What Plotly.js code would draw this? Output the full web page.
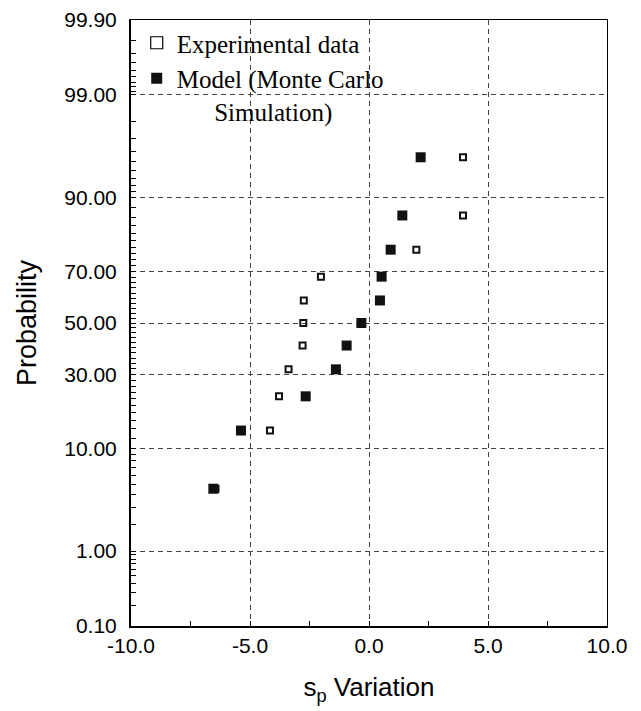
<!DOCTYPE html>
<html>
<head>
<meta charset="utf-8">
<script src="https://cdn.plot.ly/plotly-3.0.1.min.js"></script>
<style>
html,body{margin:0;padding:0;background:#fff;}
#chart{width:641px;height:711px;}
</style>
</head>
<body>
<div id="chart"></div>
<script>
// Data (probability in percent)
var probability = [4.55, 13.64, 22.73, 31.82, 40.91, 50.00, 59.09, 68.18, 77.27, 86.36, 95.45];
var experimentalX = [-6.45, -4.16, -3.78, -3.38, -2.79, -2.76, -2.74, -2.02, 1.99, 3.95, 3.95];
var modelX = [-6.54, -5.38, -2.66, -1.39, -0.94, -0.32, 0.46, 0.53, 0.91, 1.40, 2.17];

var xTickVals = [-10, -5, 0, 5, 10];
var xTickText = ['-10.0', '-5.0', '0.0', '5.0', '10.0'];
var xMinorVals = [-7.5, -2.5, 2.5, 7.5];

var yTickProbs = [0.1, 1, 10, 30, 50, 70, 90, 99, 99.9];
var yTickText = ["0.10", "1.00", "10.00", "30.00", "50.00", "70.00", "90.00", "99.00", "99.90"];
var yMinorProbs = [0.2,0.3,0.4,0.5,0.6,0.7,0.8,0.9, 2,3,4,5,6,7,8,9,
  12,14,16,18,20,22,24,26,28, 32,34,36,38,40,42,44,46,48,
  52,54,56,58,60,62,64,66,68, 72,74,76,78,80,82,84,86,88,
  91,92,93,94,95,96,97,98, 99.1,99.2,99.3,99.4,99.5,99.6,99.7,99.8];

// inverse standard normal CDF (Acklam) -> normal probability scale
function normInv(p){
  var a=[-3.969683028665376e+01,2.209460984245205e+02,-2.759285104469687e+02,1.383577518672690e+02,-3.066479806614716e+01,2.506628277459239e+00];
  var b=[-5.447609879822406e+01,1.615858368580409e+02,-1.556989798598866e+02,6.680131188771972e+01,-1.328068155288572e+01];
  var c=[-7.784894002430293e-03,-3.223964580411365e-01,-2.400758277161838e+00,-2.549732539343734e+00,4.374664141464968e+00,2.938163982698783e+00];
  var d=[7.784695709041462e-03,3.224671290700398e-01,2.445134137142996e+00,3.754408661907416e+00];
  var pl=0.02425, q, r;
  if(p<pl){q=Math.sqrt(-2*Math.log(p));return (((((c[0]*q+c[1])*q+c[2])*q+c[3])*q+c[4])*q+c[5])/((((d[0]*q+d[1])*q+d[2])*q+d[3])*q+1);}
  if(p<=1-pl){q=p-0.5;r=q*q;return (((((a[0]*r+a[1])*r+a[2])*r+a[3])*r+a[4])*r+a[5])*q/(((((b[0]*r+b[1])*r+b[2])*r+b[3])*r+b[4])*r+1);}
  q=Math.sqrt(-2*Math.log(1-p));return -(((((c[0]*q+c[1])*q+c[2])*q+c[3])*q+c[4])*q+c[5])/((((d[0]*q+d[1])*q+d[2])*q+d[3])*q+1);
}
function z(pct){return normInv(pct/100);}

var yz = probability.map(z);
var yRange = [z(0.1), z(99.9)];

var expName = 'Experimental data';
var modelName = 'Model (Monte Carlo<br>\u00a0\u00a0\u00a0\u00a0\u00a0\u00a0Simulation)';

var traces = [
  {x: experimentalX, y: yz, type:'scatter', mode:'markers', name:expName, showlegend:false,
   marker:{symbol:'square-open', size:6, color:'#111', line:{width:2, color:'#111'}}},
  {x: modelX, y: yz, type:'scatter', mode:'markers', name:modelName, showlegend:false,
   marker:{symbol:'square', size:10, color:'#111', line:{width:0}}},
  // legend entries (no data drawn)
  {x:[null], y:[null], type:'scatter', mode:'markers', name:expName, showlegend:true,
   marker:{symbol:'square-open', size:12, color:'#000', line:{width:1.2, color:'#000'}}},
  {x:[null], y:[null], type:'scatter', mode:'markers', name:modelName, showlegend:true,
   marker:{symbol:'square', size:11, color:'#111', line:{width:0}}},
  // empty traces that attach the frame and minor-tick axes
  {x:[null], y:[null], xaxis:'x2', yaxis:'y2', type:'scatter', mode:'markers', showlegend:false, hoverinfo:'skip'},
  {x:[null], y:[null], xaxis:'x3', yaxis:'y3', type:'scatter', mode:'markers', showlegend:false, hoverinfo:'skip'}
];

var tickFont = {family:'Liberation Sans, Arial, sans-serif', size:21, color:'#000'};
var titleFont = {family:'Liberation Sans, Arial, sans-serif', size:26, color:'#000'};

var layout = {
  width:641, height:711,
  margin:{l:131, r:34, t:20, b:85},
  paper_bgcolor:'#fff', plot_bgcolor:'#fff',
  showlegend:true,
  legend:{x:0.012, y:1.0, xanchor:'left', yanchor:'top', bgcolor:'rgba(0,0,0,0)', valign:'top',
    font:{family:'Liberation Serif, Times New Roman, serif', size:25, color:'#000'},
    tracegroupgap:0, itemsizing:'trace'},
  xaxis:{range:[-10,10], tickmode:'array', tickvals:xTickVals, ticktext:xTickText,
    ticks:'inside', ticklen:5, tickcolor:'#000', tickfont:tickFont,
    showline:true, linewidth:2, linecolor:'#000', zeroline:false,
    showgrid:true, gridcolor:'#444', gridwidth:1, griddash:'5px,4px',
    title:{text:'s<sub>p</sub> Variation', font:titleFont, standoff:22},
    fixedrange:true},
  yaxis:{range:yRange, tickmode:'array', tickvals:yTickProbs.map(z), ticktext:yTickText,
    ticks:'inside', ticklen:5, tickcolor:'#000', tickfont:tickFont, ticklabelstandoff:8,
    showline:true, linewidth:2, linecolor:'#000', zeroline:false,
    showgrid:true, gridcolor:'#444', gridwidth:1, griddash:'5px,4px',
    title:{text:'Probability', font:{family:'Liberation Sans, Arial, sans-serif', size:27, color:'#000'}, standoff:20},
    fixedrange:true},
  xaxis2:{overlaying:'x', anchor:'y2', side:'top', range:[-10,10], showline:true, linewidth:1, linecolor:'#000',
    showticklabels:false, ticks:'', showgrid:false, zeroline:false, fixedrange:true},
  yaxis2:{overlaying:'y', anchor:'x2', side:'right', range:yRange, showline:true, linewidth:1, linecolor:'#000',
    showticklabels:false, ticks:'', showgrid:false, zeroline:false, fixedrange:true},
  xaxis3:{overlaying:'x', anchor:'y3', side:'bottom', range:[-10,10], tickmode:'array', tickvals:xMinorVals,
    ticks:'inside', ticklen:5, tickwidth:1, tickcolor:'#000', showticklabels:false,
    showline:false, showgrid:false, zeroline:false, fixedrange:true},
  yaxis3:{overlaying:'y', anchor:'x3', side:'left', range:yRange, tickmode:'array', tickvals:yMinorProbs.map(z),
    ticks:'inside', ticklen:5, tickwidth:1, tickcolor:'#000', showticklabels:false,
    showline:false, showgrid:false, zeroline:false, fixedrange:true}
};

Plotly.newPlot('chart', traces, layout, {displayModeBar:false, staticPlot:true});
</script>
</body>
</html>
